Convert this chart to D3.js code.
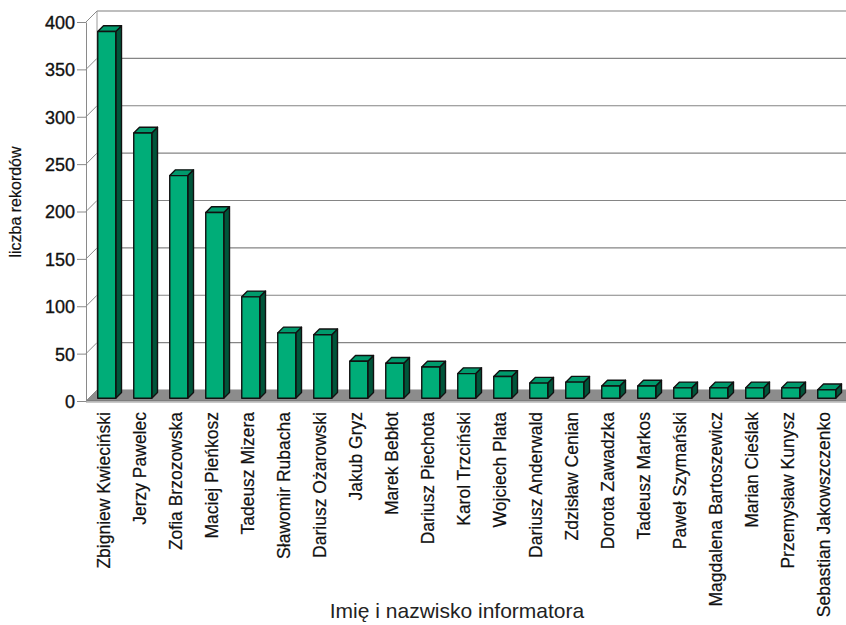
<!DOCTYPE html>
<html>
<head>
<meta charset="utf-8">
<script src="https://cdn.jsdelivr.net/npm/d3@7"></script>
<style>
  html, body { margin: 0; padding: 0; background: #fff; }
  svg { display: block; font-family: "Liberation Sans", Arial, sans-serif; }
</style>
</head>
<body>
<svg id="chart" width="846" height="625"></svg>
<script>
// Informant names and number of records per informant
const informants = [
  "Zbigniew Kwieciński", "Jerzy Pawelec", "Zofia Brzozowska", "Maciej Pieńkosz",
  "Tadeusz Mizera", "Sławomir Rubacha", "Dariusz Ożarowski", "Jakub Gryz",
  "Marek Bebłot", "Dariusz Piechota", "Karol Trzciński", "Wojciech Plata",
  "Dariusz Anderwald", "Zdzisław Cenian", "Dorota Zawadzka", "Tadeusz Markos",
  "Paweł Szymański", "Magdalena Bartoszewicz", "Marian Cieślak",
  "Przemysław Kunysz", "Sebastian Jakowszczenko"
];
const records = [387, 280, 235, 196, 107, 69, 67, 39, 37, 33, 26, 23, 16, 17, 13, 13, 11, 11, 11, 11, 9];
const yTicks = [0, 50, 100, 150, 200, 250, 300, 350, 400];

const yTitle = "liczba rekordów";
const xTitle = "Imię i nazwisko informatora";

const svg = d3.select("#chart");

// front plane of the 3D box
const plotLeft = 86, plotRight = 842, plotBottom = 401, plotTop = 22;
const depth = 11;              // oblique offset of the back wall
const barFront = 2.75, barDepth = 5.75;

const x = d3.scaleBand().domain(informants).range([plotLeft, plotRight]).paddingInner(0.5).paddingOuter(0.25);
const y = d3.scaleLinear().domain([0, 400]).range([plotBottom, plotTop]);

// shift a front-plane point back by d pixels of depth
const off = (px, py, d) => [px + d, py - d];
const poly = pts => pts.map(p => p.join(",")).join(" ");

// back wall gridlines
const g = svg.append("g");
g.selectAll("line.grid").data(yTicks).join("line")
  .attr("class", "grid")
  .attr("x1", plotLeft + depth).attr("x2", 846)
  .attr("y1", d => y(d) - depth).attr("y2", d => y(d) - depth)
  .attr("stroke", d => d === 400 ? "#a8a8a8" : "#858585")
  .attr("stroke-width", d => d === 400 ? 1.6 : 1.1);

// back wall left edge
g.append("line")
  .attr("x1", plotLeft + depth).attr("x2", plotLeft + depth)
  .attr("y1", y(400) - depth).attr("y2", y(0) - depth)
  .attr("stroke", "#9a9a9a").attr("stroke-width", 1);

// side wall diagonals at each tick
g.selectAll("line.diag").data(yTicks).join("line")
  .attr("class", "diag")
  .attr("x1", plotLeft).attr("y1", d => y(d))
  .attr("x2", plotLeft + depth).attr("y2", d => y(d) - depth)
  .attr("stroke", "#8a8a8a").attr("stroke-width", 1);

// floor
const floorPts = [[plotLeft, plotBottom], [plotRight + 20, plotBottom],
  [plotRight + 20 + depth, plotBottom - depth], [plotLeft + depth, plotBottom - depth]];
g.append("polygon").attr("points", poly(floorPts)).attr("fill", "#8c8c8c");
g.append("line")
  .attr("x1", plotLeft).attr("x2", 846).attr("y1", plotBottom).attr("y2", plotBottom)
  .attr("stroke", "#6e6e6e").attr("stroke-width", 1.2);
g.append("line")
  .attr("x1", plotLeft).attr("x2", 846).attr("y1", plotBottom + 1.5).attr("y2", plotBottom + 1.5)
  .attr("stroke", "#c8c8c8").attr("stroke-width", 1);

// y axis on the front plane
const yAxis = d3.axisLeft(y).tickValues(yTicks).tickSize(9).tickSizeOuter(0).tickPadding(2);
const ya = svg.append("g").attr("transform", `translate(${plotLeft},0)`).call(yAxis);
ya.select(".domain").attr("stroke", "#8a8a8a");
ya.selectAll(".tick line").attr("stroke", "#8a8a8a");
ya.selectAll(".tick text")
  .attr("font-size", 18).attr("fill", "#111")
  .attr("stroke", "#111").attr("stroke-width", 0.35)
  .attr("font-family", "'Liberation Sans', Arial, sans-serif")
  .attr("dy", "0.36em");

// bars drawn as oblique boxes
const bars = svg.append("g").attr("stroke", "#111").attr("stroke-width", 1.4).attr("stroke-linejoin", "round");
informants.forEach((name, i) => {
  const v = records[i];
  const x0 = x(name), x1 = x0 + x.bandwidth();
  const y0 = y(0), y1 = y(v);
  const f = (px, py) => off(px, py, barFront);
  const b = (px, py) => off(px, py, barFront + barDepth);
  // side face
  bars.append("polygon")
    .attr("points", poly([f(x1, y0), b(x1, y0), b(x1, y1), f(x1, y1)]))
    .attr("fill", "#00553a");
  // top face
  bars.append("polygon")
    .attr("points", poly([f(x0, y1), f(x1, y1), b(x1, y1), b(x0, y1)]))
    .attr("fill", "#009a6c");
  // front face
  bars.append("polygon")
    .attr("points", poly([f(x0, y0), f(x1, y0), f(x1, y1), f(x0, y1)]))
    .attr("fill", "#00ad78");
});

// category labels
const xAxis = d3.axisBottom(x).tickSize(0).tickPadding(0);
const xa = svg.append("g").attr("transform", `translate(0,${plotBottom + 11})`).call(xAxis);
xa.select(".domain").remove();
xa.selectAll(".tick text")
  .attr("font-size", 17.5).attr("fill", "#111")
  .attr("stroke", "#111").attr("stroke-width", 0.2)
  .attr("font-family", "'Liberation Sans', Arial, sans-serif")
  .attr("text-anchor", "end")
  .attr("transform", "rotate(-90)")
  .attr("x", 0).attr("y", 0).attr("dx", 0).attr("dy", "0.35em");

// axis titles
svg.append("text")
  .attr("transform", `translate(21,202) rotate(-90)`)
  .attr("text-anchor", "middle")
  .attr("font-size", 16).attr("fill", "#111")
  .attr("stroke", "#111").attr("stroke-width", 0.2)
  .text(yTitle);
svg.append("text")
  .attr("x", 457).attr("y", 618)
  .attr("text-anchor", "middle")
  .attr("font-size", 21).attr("fill", "#222")
  .text(xTitle);
</script>
</body>
</html>
